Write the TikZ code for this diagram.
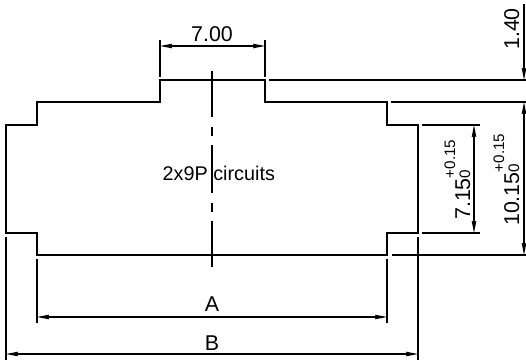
\documentclass[tikz,border=0pt]{standalone}
\usepackage{fontspec}
\setmainfont{Liberation Sans}
\usetikzlibrary{arrows.meta}

\newcommand{\tolval}[3]{#1\rlap{\raisebox{15pt}{\fontsize{15.2}{15.2}\selectfont #2}}{\fontsize{15.2}{15.2}\selectfont #3}}

\begin{document}
\begin{tikzpicture}[
    x=1pt, y=-1pt,
    outline/.style={line width=1.6pt, line join=miter},
    extline/.style={line width=1.5pt},
    centerline/.style={line width=1.5pt},
    dimline/.style={line width=1.2pt, {Stealth[length=12pt,width=4.5pt,inset=1pt]}-{Stealth[length=12pt,width=4.5pt,inset=1pt]}},
    dimend/.style={line width=1.2pt, -{Stealth[length=12pt,width=4.5pt,inset=1pt]}},
    dimtext/.style={inner sep=0pt, font=\fontsize{21.4}{21.4}\selectfont},
    note/.style={inner sep=0pt, font=\fontsize{19.8}{19.8}\selectfont}
]
\useasboundingbox (0,0) rectangle (526,361);

% Connector body
\draw[outline] (6,125) -- (37,125) -- (37,102) -- (160,102) -- (160,80) -- (265,80)
    -- (265,102) -- (387,102) -- (387,125) -- (418,125) -- (418,233) -- (387,233)
    -- (387,255) -- (37,255) -- (37,233) -- (6,233) -- cycle;

% Center line
\draw[centerline] (212,70.5) -- (212,117);
\draw[centerline] (212,127) -- (212,136);
\draw[centerline] (212,145) -- (212,192.5);
\draw[centerline] (212,202.5) -- (212,212);
\draw[centerline] (212,220.5) -- (212,267);

% Extension lines
\coordinate (topL) at (160,46);
\coordinate (topR) at (265,46);
\coordinate (aL) at (37,317);
\coordinate (aR) at (387,317);
\coordinate (bL) at (6,354);
\coordinate (bR) at (418,354);
\coordinate (w1) at (474,125);
\coordinate (w2) at (474,233);
\coordinate (h0) at (524,4);
\coordinate (h1) at (524,80);
\coordinate (h2) at (524,102);
\coordinate (h3) at (524,255);

\draw[extline] (160,40.5) -- (160,76.5);
\draw[extline] (265,40.5) -- (265,76.5);
\draw[extline] (269,80) -- (526,80);
\draw[extline] (391,102) -- (526,102);
\draw[extline] (422,125) -- (480,125);
\draw[extline] (422,233) -- (480,233);
\draw[extline] (392,255) -- (526,255);
\draw[extline] (37,259) -- (37,322.5);
\draw[extline] (387,259) -- (387,322.5);
\draw[extline] (6,237) -- (6,360);
\draw[extline] (418,237) -- (418,360);

% Dimensions
\draw[dimline] (topL) -- (topR);
\draw[dimline] (aL) -- (aR);
\draw[dimline] (bL) -- (bR);
\draw[dimline] (w1) -- (w2);
\draw[dimend] (h0) -- (h1);
\draw[dimline] (h2) -- (h3);

% Labels
\node[dimtext, anchor=base] (dimTop) at (212,41.5) {7.00};
\node[dimtext, anchor=base] (dimA) at (212,311.5) {A};
\node[dimtext, anchor=base] (dimB) at (212,350) {B};
\node[note, anchor=base west] (circuits) at (162.5,180) {2x9P circuits};
\node[dimtext, anchor=base west, rotate=90] (dimH) at (519,50) {1.40};
\node[dimtext, anchor=base west, rotate=90] (dimW) at (470,220) {\tolval{7.15}{+0.15}{0}};
\node[dimtext, anchor=base west, rotate=90] (dimHt) at (519,226) {\tolval{10.15}{+0.15}{0}};

\end{tikzpicture}
\end{document}
